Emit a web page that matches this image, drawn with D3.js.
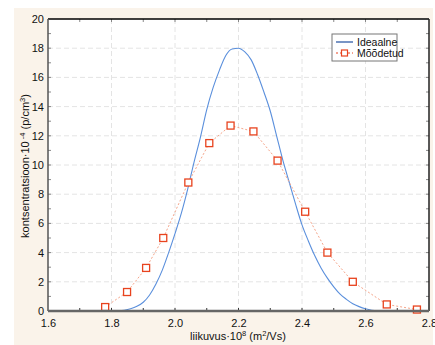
<!DOCTYPE html>
<html>
<head>
<meta charset="utf-8">
<script src="https://cdn.jsdelivr.net/npm/d3@7"></script>
<style>
body { margin: 0; background: #fff; }
svg text { font-family: "Liberation Sans", Arial, sans-serif; fill: #111; }
</style>
</head>
<body>
<svg width="435" height="345"></svg>
<script>
var idealX = [1.82, 1.84, 1.86, 1.88, 1.90, 1.92, 1.94, 1.96, 1.98, 2.00, 2.02, 2.04, 2.06, 2.08, 2.10,
  2.12, 2.14, 2.16, 2.18, 2.20, 2.22, 2.24, 2.26, 2.28, 2.30, 2.32, 2.34, 2.36, 2.38, 2.40, 2.42,
  2.44, 2.46, 2.48, 2.50, 2.52, 2.54, 2.56, 2.58, 2.60, 2.62, 2.64];
var idealY = [0, 0.05, 0.15, 0.32, 0.6, 1.1, 1.85, 2.8, 4.0, 5.3, 6.7, 8.35, 10.2, 11.9, 13.8,
  15.3, 16.5, 17.5, 17.95, 18.0, 17.75, 17.2, 16.2, 15.0, 13.7, 12.0, 10.3, 8.8, 7.3, 5.9, 4.8,
  3.8, 2.95, 2.25, 1.65, 1.15, 0.8, 0.5, 0.3, 0.15, 0.05, 0];

var measX = [1.78, 1.849, 1.909, 1.963, 2.042, 2.108, 2.175, 2.247, 2.323, 2.41, 2.48, 2.56, 2.667, 2.762];
var measY = [0.27, 1.3, 2.95, 5.0, 8.8, 11.5, 12.7, 12.3, 10.3, 6.8, 4.0, 2.0, 0.45, 0.1];

var xTicks = [1.6, 1.8, 2.0, 2.2, 2.4, 2.6, 2.8];
var yTicks = [0, 2, 4, 6, 8, 10, 12, 14, 16, 18, 20];
var legendLabels = ['Ideaalne', 'Mõõdetud'];

var svg = d3.select('svg');
var plot = {l: 48, t: 19, r: 429, b: 311};

svg.append('rect')
  .attr('x', 14).attr('y', 8)
  .attr('width', 419).attr('height', 337)
  .attr('fill', '#faf3ea');

svg.append('rect')
  .attr('x', plot.l).attr('y', plot.t)
  .attr('width', plot.r - plot.l).attr('height', plot.b - plot.t)
  .attr('fill', '#fff');

var x = d3.scaleLinear().domain([1.6, 2.8]).range([plot.l, plot.r]);
var y = d3.scaleLinear().domain([0, 20]).range([plot.b, plot.t]);

// grid
svg.append('g').selectAll('line')
  .data(xTicks.slice(1, -1))
  .enter().append('line')
  .attr('x1', d => x(d)).attr('x2', d => x(d))
  .attr('y1', plot.t).attr('y2', plot.b)
  .attr('stroke', '#e4e4e4').attr('stroke-dasharray', '5,3');
svg.append('g').selectAll('line')
  .data(yTicks.slice(1, -1))
  .enter().append('line')
  .attr('y1', d => y(d)).attr('y2', d => y(d))
  .attr('x1', plot.l).attr('x2', plot.r)
  .attr('stroke', '#e4e4e4').attr('stroke-dasharray', '5,3');

// axes
var xAxis = svg.append('g')
  .attr('transform', 'translate(0,' + plot.b + ')')
  .call(d3.axisBottom(x).tickValues(xTicks).tickSize(0).tickPadding(8).tickFormat(d3.format('.1f')));
xAxis.select('.domain').remove();
xAxis.selectAll('text').style('font-size', '11px');

var yAxis = svg.append('g')
  .attr('transform', 'translate(' + plot.l + ',0)')
  .call(d3.axisLeft(y).tickValues(yTicks).tickSize(0).tickPadding(4));
yAxis.select('.domain').remove();
yAxis.selectAll('text').style('font-size', '11px');

// minor ticks inside the frame
var minorX = d3.range(1.7, 2.8, 0.1);
var minorY = d3.range(1, 20, 1);
svg.append('g').selectAll('line').data(minorX).enter().append('line')
  .attr('x1', d => x(d)).attr('x2', d => x(d))
  .attr('y1', plot.b).attr('y2', plot.b - 3).attr('stroke', '#333');
svg.append('g').selectAll('line').data(minorX).enter().append('line')
  .attr('x1', d => x(d)).attr('x2', d => x(d))
  .attr('y1', plot.t).attr('y2', plot.t + 3).attr('stroke', '#888');
svg.append('g').selectAll('line').data(minorY).enter().append('line')
  .attr('y1', d => y(d)).attr('y2', d => y(d))
  .attr('x1', plot.l).attr('x2', plot.l + 3).attr('stroke', '#888');
svg.append('g').selectAll('line').data(minorY).enter().append('line')
  .attr('y1', d => y(d)).attr('y2', d => y(d))
  .attr('x1', plot.r).attr('x2', plot.r - 3).attr('stroke', '#888');

// ideal curve
var ideal = idealX.map((d, i) => [d, idealY[i]]);
svg.append('path')
  .datum(ideal)
  .attr('fill', 'none')
  .attr('stroke', '#5a8fdc')
  .attr('stroke-width', 1.1)
  .attr('d', d3.line().x(d => x(d[0])).y(d => y(d[1])).curve(d3.curveMonotoneX));

// measured
var meas = measX.map((d, i) => [d, measY[i]]);
svg.append('path')
  .datum(meas)
  .attr('fill', 'none')
  .attr('stroke', '#f5a58a')
  .attr('stroke-width', 1)
  .attr('stroke-dasharray', '2,2')
  .attr('d', d3.line().x(d => x(d[0])).y(d => y(d[1])));

svg.append('g').selectAll('rect')
  .data(meas).enter().append('rect')
  .attr('x', d => x(d[0]) - 3.5).attr('y', d => y(d[1]) - 3.5)
  .attr('width', 7).attr('height', 7)
  .attr('fill', '#fff').attr('stroke', '#e8431e').attr('stroke-width', 1.3);

// frame
svg.append('line').attr('x1', plot.l).attr('x2', plot.r).attr('y1', plot.t).attr('y2', plot.t)
  .attr('stroke', '#000').attr('stroke-width', 1.5);
svg.append('line').attr('x1', plot.r).attr('x2', plot.r).attr('y1', plot.t).attr('y2', plot.b)
  .attr('stroke', '#222').attr('stroke-width', 1.5);
svg.append('line').attr('x1', plot.l).attr('x2', plot.l).attr('y1', plot.t).attr('y2', plot.b)
  .attr('stroke', '#555').attr('stroke-width', 1.5);
svg.append('line').attr('x1', plot.l).attr('x2', plot.r).attr('y1', plot.b).attr('y2', plot.b)
  .attr('stroke', '#666').attr('stroke-width', 2.5);

// legend
var lg = svg.append('g').attr('transform', 'translate(332,34)');
lg.append('rect').attr('width', 65).attr('height', 27)
  .attr('fill', '#fff').attr('stroke', '#777');
lg.append('line').attr('x1', 4).attr('x2', 21).attr('y1', 8).attr('y2', 8)
  .attr('stroke', '#1f4e9e').attr('stroke-width', 1.2);
lg.append('line').attr('x1', 4).attr('x2', 21).attr('y1', 19).attr('y2', 19)
  .attr('stroke', '#e8431e').attr('stroke-dasharray', '2,2');
lg.append('rect').attr('x', 9.5).attr('y', 16).attr('width', 6).attr('height', 6)
  .attr('fill', '#fff').attr('stroke', '#e8431e').attr('stroke-width', 1.2);
lg.selectAll('text.lbl').data(legendLabels).enter().append('text')
  .attr('class', 'lbl')
  .attr('x', 25).attr('y', (d, i) => 12 + i * 11)
  .style('font-size', '10.5px')
  .text(d => d);

// axis titles
var xt = svg.append('text')
  .attr('x', 238).attr('y', 340)
  .attr('text-anchor', 'middle')
  .style('font-size', '11px');
xt.append('tspan').text('liikuvus·10');
xt.append('tspan').attr('dy', -4).style('font-size', '7.5px').text('8');
xt.append('tspan').attr('dy', 4).text(' (m');
xt.append('tspan').attr('dy', -4).style('font-size', '7.5px').text('2');
xt.append('tspan').attr('dy', 4).text('/Vs)');

var yt = svg.append('text')
  .attr('transform', 'translate(29,166) rotate(-90)')
  .attr('text-anchor', 'middle')
  .style('font-size', '11px');
yt.append('tspan').text('kontsentratsioon·10');
yt.append('tspan').attr('dy', -4).style('font-size', '7.5px').text(' -4');
yt.append('tspan').attr('dy', 4).text(' (p/cm');
yt.append('tspan').attr('dy', -4).style('font-size', '7.5px').text('3');
yt.append('tspan').attr('dy', 4).text(')');
</script>
</body>
</html>
